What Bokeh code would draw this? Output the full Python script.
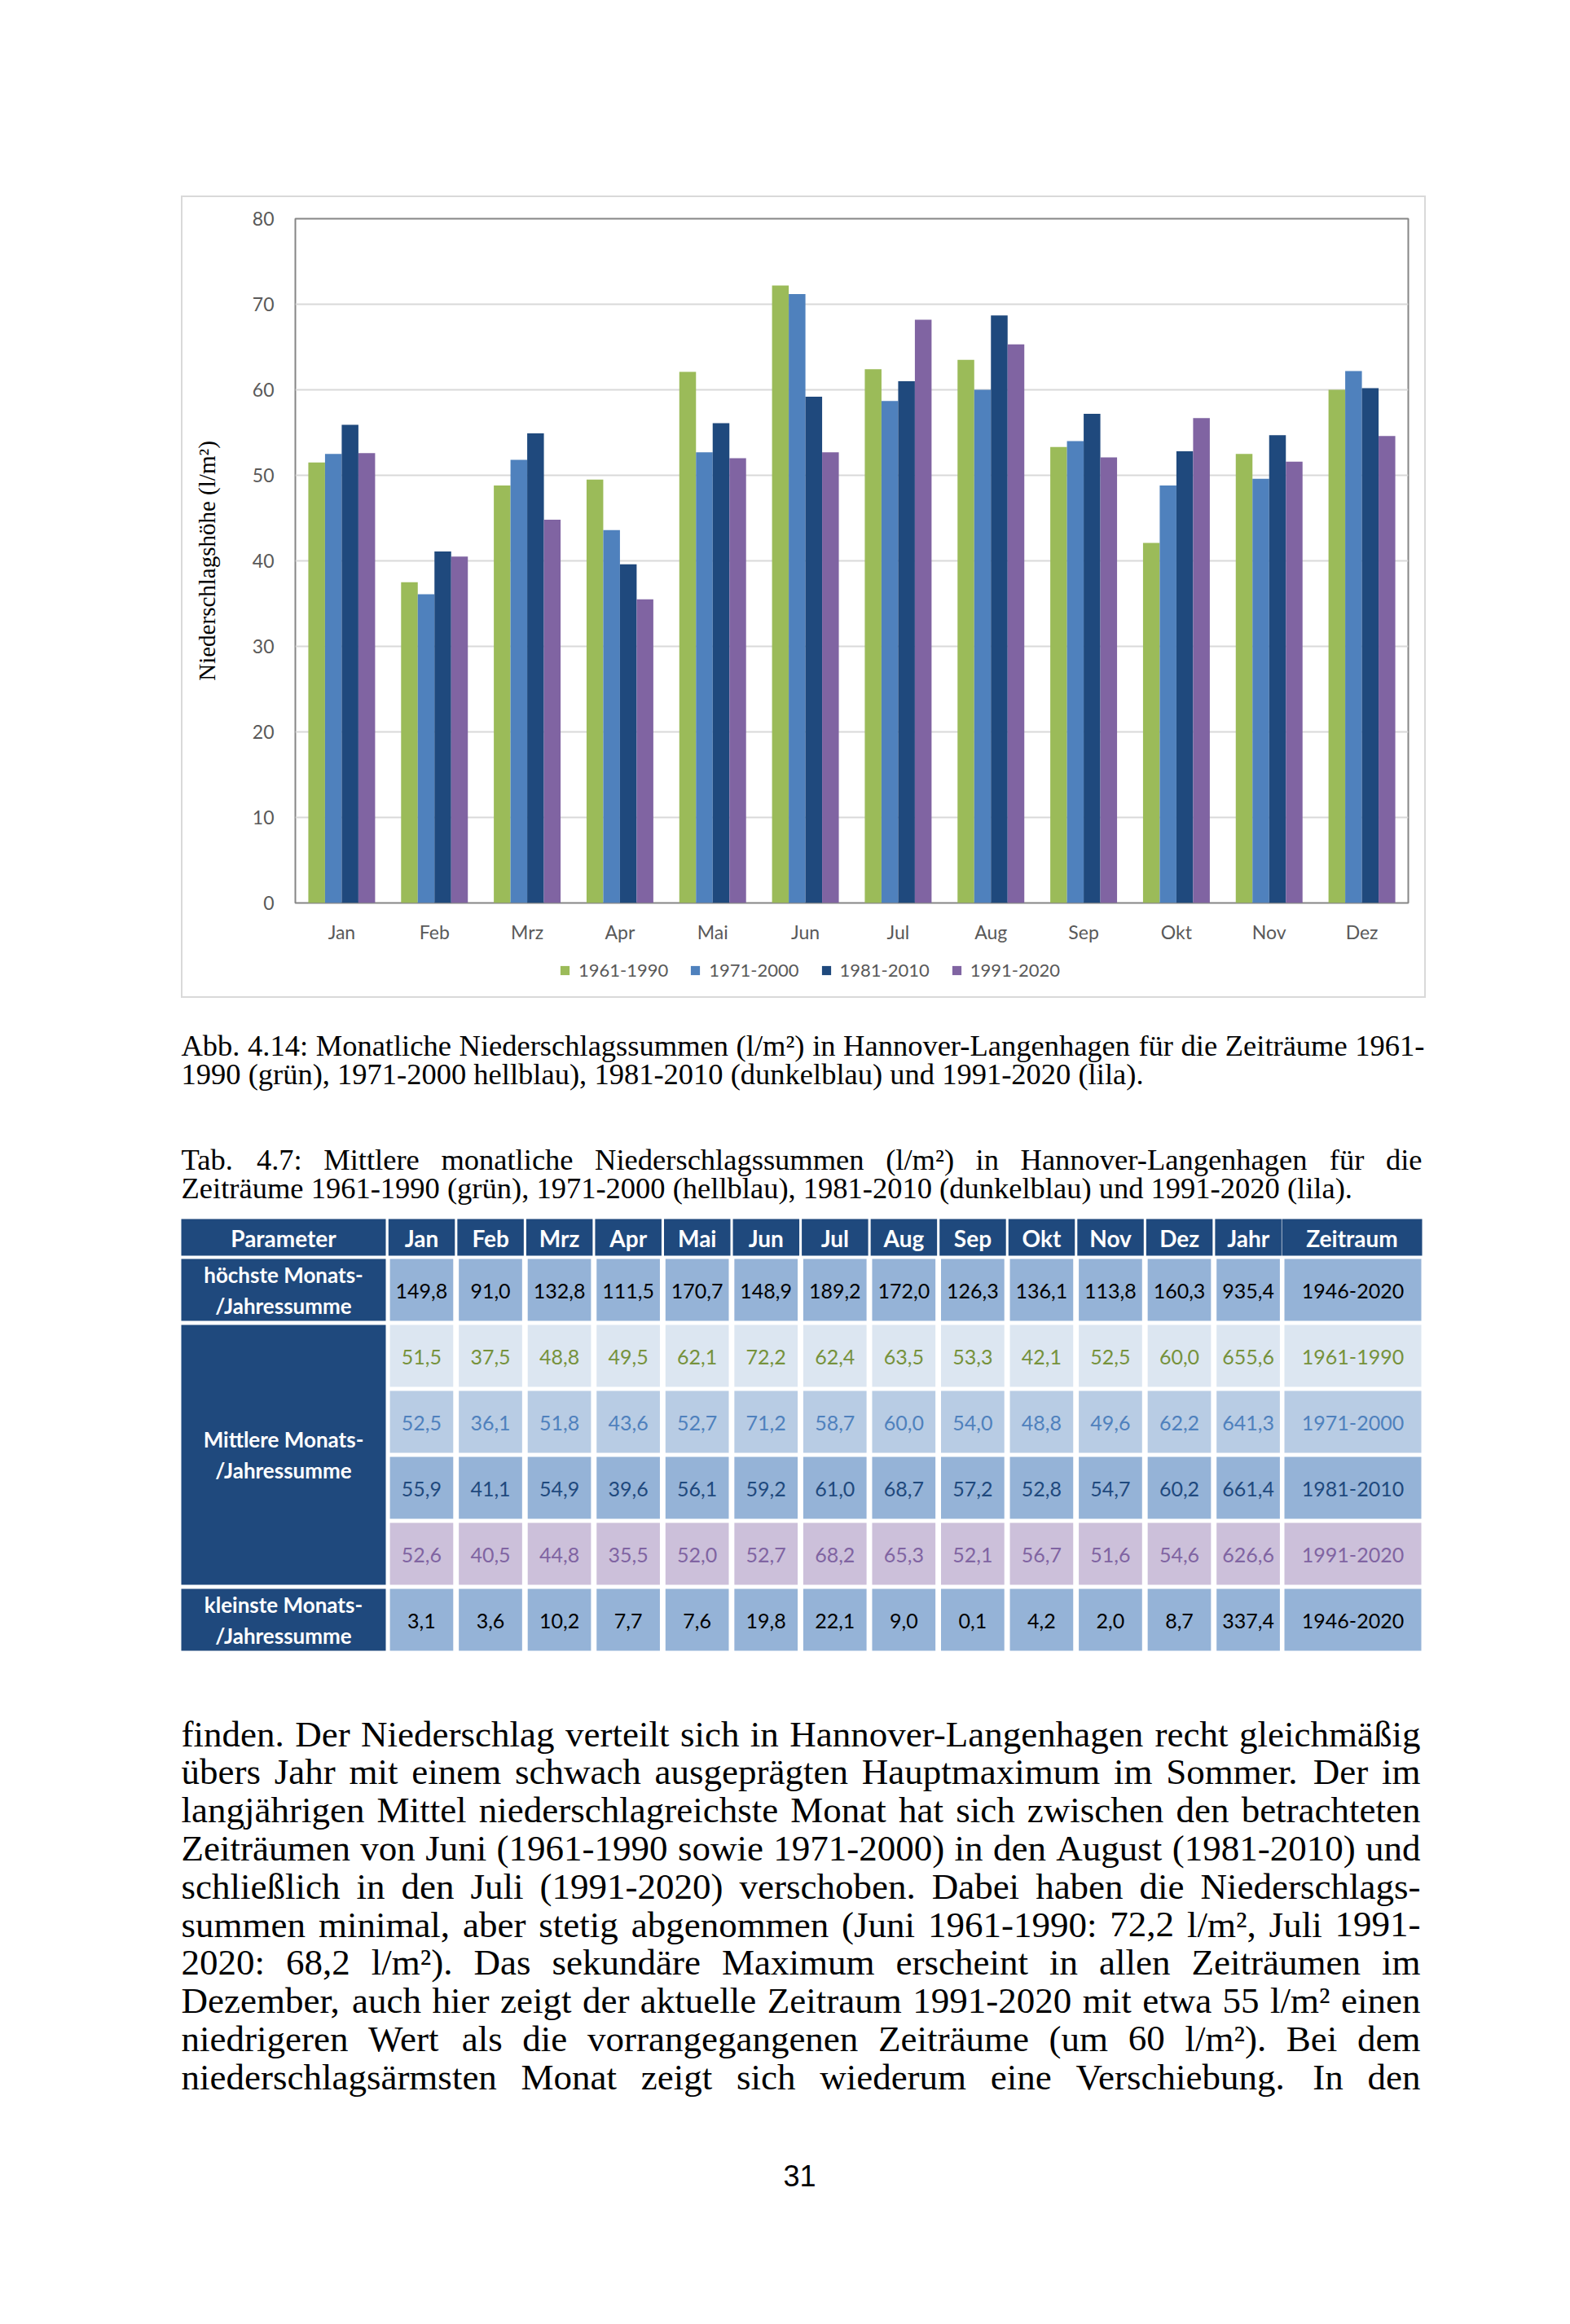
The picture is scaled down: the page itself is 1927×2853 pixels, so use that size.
from bokeh.plotting import figure
from bokeh.models import (ColumnDataSource, FactorRange, Range1d, FixedTicker,
                          Legend, LegendItem, Spacer)
from bokeh.layouts import column, row
from bokeh.transform import dodge
from bokeh.core.properties import value
from bokeh.embed import file_html
from bokeh.resources import INLINE

# ---------------- data ----------------
months = ["Jan", "Feb", "Mrz", "Apr", "Mai", "Jun", "Jul", "Aug", "Sep", "Okt", "Nov", "Dez"]
periods = ["1961-1990", "1971-2000", "1981-2010", "1991-2020"]
v1961_1990 = [51.5, 37.5, 48.8, 49.5, 62.1, 72.2, 62.4, 63.5, 53.3, 42.1, 52.5, 60.0]
v1971_2000 = [52.5, 36.1, 51.8, 43.6, 52.7, 71.2, 58.7, 60.0, 54.0, 48.8, 49.6, 62.2]
v1981_2010 = [55.9, 41.1, 54.9, 39.6, 56.1, 59.2, 61.0, 68.7, 57.2, 52.8, 54.7, 60.2]
v1991_2020 = [52.6, 40.5, 44.8, 35.5, 52.0, 52.7, 68.2, 65.3, 52.1, 56.7, 51.6, 54.6]
year_means = [655.6, 641.3, 661.4, 626.6]
highest = [149.8, 91.0, 132.8, 111.5, 170.7, 148.9, 189.2, 172.0, 126.3, 136.1, 113.8, 160.3]
highest_year = 935.4
lowest = [3.1, 3.6, 10.2, 7.7, 7.6, 19.8, 22.1, 9.0, 0.1, 4.2, 2.0, 8.7]
lowest_year = 337.4
record_period = "1946-2020"
y_ticks = [0, 10, 20, 30, 40, 50, 60, 70, 80]
y_label = "Niederschlagshöhe (l/m²)"
header_labels = ["Parameter"] + months + ["Jahr", "Zeitraum"]
param_labels = [["höchste Monats-", "/Jahressumme"],
                ["Mittlere Monats-", "/Jahressumme"],
                ["kleinste Monats-", "/Jahressumme"]]

caption_fig = ["Abb. 4.14: Monatliche Niederschlagssummen (l/m²) in Hannover-Langenhagen für die Zeiträume 1961-",
               "1990 (grün), 1971-2000 hellblau), 1981-2010 (dunkelblau) und 1991-2020 (lila)."]
caption_tab = ["Tab. 4.7: Mittlere monatliche Niederschlagssummen (l/m²) in Hannover-Langenhagen für die",
               "Zeiträume 1961-1990 (grün), 1971-2000 (hellblau), 1981-2010 (dunkelblau) und 1991-2020 (lila)."]
body_lines = [
    "finden. Der Niederschlag verteilt sich in Hannover-Langenhagen recht gleichmäßig",
    "übers Jahr mit einem schwach ausgeprägten Hauptmaximum im Sommer. Der im",
    "langjährigen Mittel niederschlagreichste Monat hat sich zwischen den betrachteten",
    "Zeiträumen von Juni (1961-1990 sowie 1971-2000) in den August (1981-2010) und",
    "schließlich in den Juli (1991-2020) verschoben. Dabei haben die Niederschlags-",
    "summen minimal, aber stetig abgenommen (Juni 1961-1990: 72,2 l/m², Juli 1991-",
    "2020: 68,2 l/m²). Das sekundäre Maximum erscheint in allen Zeiträumen im",
    "Dezember, auch hier zeigt der aktuelle Zeitraum 1991-2020 mit etwa 55 l/m² einen",
    "niedrigeren Wert als die vorrangegangenen Zeiträume (um 60 l/m²). Bei dem",
    "niederschlagsärmsten Monat zeigt sich wiederum eine Verschiebung. In den",
]
page_number = "31"

# ---------------- styles ----------------
SANS = "Lato"
SERIF = "Liberation Serif"
bar_colors = ["#9BBB59", "#4F81BD", "#1F497D", "#8064A2"]
NAVY = "#1F497D"
FRAME_GREY = "#d9d9d9"

def fmt(v):
    return f"{v:.1f}".replace(".", ",")

# ---------------- chart ----------------
src = ColumnDataSource(dict(month=months, a=v1961_1990, b=v1971_2000, c=v1981_2010, d=v1991_2020))
chart = figure(x_range=FactorRange(*months), y_range=Range1d(0, 80),
               width=1524, height=921, output_backend="svg", toolbar_location=None,
               min_border_left=138, min_border_right=20, min_border_top=26, min_border_bottom=55,
               background_fill_color="white", border_fill_color="white")

offsets = [-0.27, -0.09, 0.09, 0.27]
for key, off, col in zip(["a", "b", "c", "d"], offsets, bar_colors):
    chart.vbar(x=dodge("month", off, range=chart.x_range), top=key, width=0.18,
               source=src, fill_color=col, line_color=None)

chart.outline_line_color = "#868686"
chart.outline_line_width = 2
chart.xgrid.grid_line_color = None
chart.ygrid.grid_line_color = FRAME_GREY
chart.ygrid.grid_line_width = 2
chart.yaxis.ticker = FixedTicker(ticks=y_ticks)
for ax in (chart.xaxis[0], chart.yaxis[0]):
    ax.axis_line_color = None
    ax.major_tick_line_color = None
    ax.minor_tick_line_color = None
    ax.major_label_text_font = SANS
    ax.major_label_text_font_size = "23px"
    ax.major_label_text_color = "#595959"
chart.yaxis.major_label_standoff = 20
chart.xaxis.major_label_standoff = 15
chart.yaxis.axis_label = y_label
chart.yaxis.axis_label_text_font = SERIF
chart.yaxis.axis_label_text_font_size = "29px"
chart.yaxis.axis_label_text_font_style = "normal"
chart.yaxis.axis_label_text_color = "#000000"
chart.yaxis.axis_label_standoff = 37

# legend strip below the chart (same series colours); its swatch glyphs have
# zero height so that only the legend itself shows
leg_fig = figure(width=1524, height=60, x_range=Range1d(0, 1), y_range=Range1d(0, 1),
                 output_backend="svg", toolbar_location=None, x_axis_type=None, y_axis_type=None,
                 min_border=0, outline_line_color=None,
                 background_fill_color="white", border_fill_color="white")
leg_rends = []
for col in bar_colors:
    leg_rends.append(leg_fig.vbar(x=[-5.0], top=[-5.0], bottom=[-5.0], width=0.01,
                                  fill_color=col, line_color=None))
legend = Legend(items=[LegendItem(label=per, renderers=[r]) for per, r in zip(periods, leg_rends)],
                orientation="horizontal", location=(324, 19),
                glyph_width=14, glyph_height=14, label_standoff=10, spacing=26,
                padding=3, margin=0, border_line_color=None, background_fill_alpha=0,
                label_text_font=SANS, label_text_font_size="22px", label_text_color="#595959")
leg_fig.add_layout(legend)

def bar_spacer(w, h):
    return Spacer(width=w, height=h, styles={"background-color": FRAME_GREY})

chart_box = column(bar_spacer(1528, 2),
                   row(bar_spacer(2, 981), column(chart, leg_fig), bar_spacer(2, 981)),
                   bar_spacer(1528, 2))

# ---------------- page (captions, table, text) ----------------
page = figure(x_range=Range1d(0, 1911), y_range=Range1d(2845, 1225),
              width=1911, height=1620, output_backend="svg", toolbar_location=None,
              x_axis_type=None, y_axis_type=None, min_border=0,
              outline_line_color=None, background_fill_color="white", border_fill_color="white")

TIMES = {' ': 250, '!': 333, '(': 333, ')': 333, ',': 250, '-': 333, '.': 250, '/': 278,
         ':': 278, ';': 278, 'A': 722, 'B': 667, 'C': 667, 'D': 722, 'E': 611, 'F': 556,
         'G': 722, 'H': 722, 'I': 333, 'J': 389, 'K': 722, 'L': 611, 'M': 889, 'N': 722,
         'O': 722, 'P': 556, 'Q': 722, 'R': 667, 'S': 556, 'T': 611, 'U': 722, 'V': 722,
         'W': 944, 'X': 722, 'Y': 722, 'Z': 611, 'a': 444, 'b': 500, 'c': 444, 'd': 500,
         'e': 444, 'f': 333, 'g': 500, 'h': 500, 'i': 278, 'j': 278, 'k': 500, 'l': 278,
         'm': 778, 'n': 500, 'o': 500, 'p': 500, 'q': 500, 'r': 333, 's': 389, 't': 278,
         'u': 500, 'v': 500, 'w': 722, 'x': 500, 'y': 500, 'z': 444, 'ä': 444, 'ö': 500,
         'ü': 500, 'ß': 500, '²': 300}
for dch in "0123456789":
    TIMES[dch] = 500

def word_width(w, size):
    return sum(TIMES.get(c, 500) for c in w) / 1000.0 * size

def place_block(fig, lines, justify, baselines, size, x0, x1):
    xl, yl, tl, xr, yr, tr = [], [], [], [], [], []
    for line, just, yb in zip(lines, justify, baselines):
        words = line.split(" ")
        widths = [word_width(w, size) for w in words]
        if just and len(words) > 1:
            gap = (x1 - x0 - sum(widths)) / (len(words) - 1)
        else:
            gap = 0.25 * size
        x = x0
        for k, (w, wd) in enumerate(zip(words, widths)):
            if just and len(words) > 1 and k == len(words) - 1:
                xr.append(x1); yr.append(yb); tr.append(w)
            else:
                xl.append(x); yl.append(yb); tl.append(w)
            x += wd + gap
    fig.text(x=xl, y=yl, text=tl, text_font=value(SERIF), text_font_size=f"{size}px",
             text_align="left", text_baseline="alphabetic", text_color="#000000")
    if xr:
        fig.text(x=xr, y=yr, text=tr, text_font=value(SERIF), text_font_size=f"{size}px",
                 text_align="right", text_baseline="alphabetic", text_color="#000000")

LM, RM = 222, 1745
place_block(page, caption_fig, [True, False], [1283, 1318], 36.5, LM, 1748)
place_block(page, caption_tab, [True, False], [1423, 1458], 36.5, LM, RM)
place_block(page, body_lines, [True] * len(body_lines),
            [2128 + i * 46.8 for i in range(len(body_lines))], 45, LM, 1743)

page.text(x=[981], y=[2670], text=[page_number], text_font=value("Liberation Sans"),
          text_font_size="36px", text_align="center", text_baseline="alphabetic", text_color="#000000")

# table geometry
PARAM_L, PARAM_R = 222, 473
COL0, PITCH, HW = 476.3, 84.55, 81.5
ZT_L, ZT_R = 1573, 1745
HEAD_T, HEAD_B = 1496, 1541
ROW0, RPITCH, RH = 1545, 81, 76

# header row
hl, hr = [PARAM_L], [PARAM_R]
for j in range(13):
    hl.append(COL0 + j * PITCH); hr.append(COL0 + j * PITCH + HW)
hl.append(ZT_L); hr.append(ZT_R)
page.quad(left=hl, right=hr, top=[HEAD_T] * len(hl), bottom=[HEAD_B] * len(hl),
          fill_color=NAVY, line_color=None)
page.text(x=[(a + b) / 2 for a, b in zip(hl, hr)], y=[(HEAD_T + HEAD_B) / 2 + 1] * len(hl),
          text=header_labels, text_font=value(SANS), text_font_size="28px", text_font_style="bold",
          text_color="white", text_align="center", text_baseline="middle")

# parameter column
p_tops = [ROW0, ROW0 + RPITCH, ROW0 + 5 * RPITCH]
p_bots = [ROW0 + RH, ROW0 + 4 * RPITCH + RH, ROW0 + 5 * RPITCH + RH]
page.quad(left=[PARAM_L] * 3, right=[PARAM_R] * 3, top=p_tops, bottom=p_bots,
          fill_color=NAVY, line_color=None)
px, py, pt = [], [], []
for lbl, t, b in zip(param_labels, p_tops, p_bots):
    c = (t + b) / 2
    px += [(PARAM_L + PARAM_R) / 2] * 2
    py += [c - 19, c + 19]
    pt += lbl
page.text(x=px, y=py, text=pt, text_font=value(SANS), text_font_size="26px", text_font_style="bold",
          text_color="white", text_align="center", text_baseline="middle")

# data rows
rows_vals = [highest + [highest_year],
             v1961_1990 + [year_means[0]],
             v1971_2000 + [year_means[1]],
             v1981_2010 + [year_means[2]],
             v1991_2020 + [year_means[3]],
             lowest + [lowest_year]]
rows_period = [record_period] + periods + [record_period]
row_bg = ["#95B3D7", "#DCE6F1", "#B8CCE4", "#95B3D7", "#CCC0DA", "#95B3D7"]
row_fg = ["#000000", "#76923C", "#4F81BD", "#1F497D", "#8064A2", "#000000"]

cl, cr, ct, cb, cf = [], [], [], [], []
tx, ty, tt, tc = [], [], [], []
for i, (vals, per) in enumerate(zip(rows_vals, rows_period)):
    top = ROW0 + i * RPITCH
    bot = top + RH
    for j, v in enumerate(vals):
        left = COL0 + j * PITCH + 1.8
        right = left + 77.7
        cl.append(left); cr.append(right); ct.append(top); cb.append(bot); cf.append(row_bg[i])
        tx.append((left + right) / 2); ty.append((top + bot) / 2 + 1); tt.append(fmt(v)); tc.append(row_fg[i])
    cl.append(ZT_L + 3); cr.append(ZT_R - 1); ct.append(top); cb.append(bot); cf.append(row_bg[i])
    tx.append((ZT_L + ZT_R) / 2 + 1); ty.append((top + bot) / 2 + 1); tt.append(per); tc.append(row_fg[i])

page.quad(source=ColumnDataSource(dict(l=cl, r=cr, t=ct, b=cb, f=cf)),
          left="l", right="r", top="t", bottom="b", fill_color="f", line_color=None)
page.text(source=ColumnDataSource(dict(x=tx, y=ty, t=tt, c=tc)), x="x", y="y", text="t",
          text_color="c", text_font=value(SANS), text_font_size="25px",
          text_align="center", text_baseline="middle")

layout = column(Spacer(width=1911, height=240),
                row(Spacer(width=222, height=985), chart_box),
                page)

open("out.html", "w").write(file_html(layout, INLINE))
